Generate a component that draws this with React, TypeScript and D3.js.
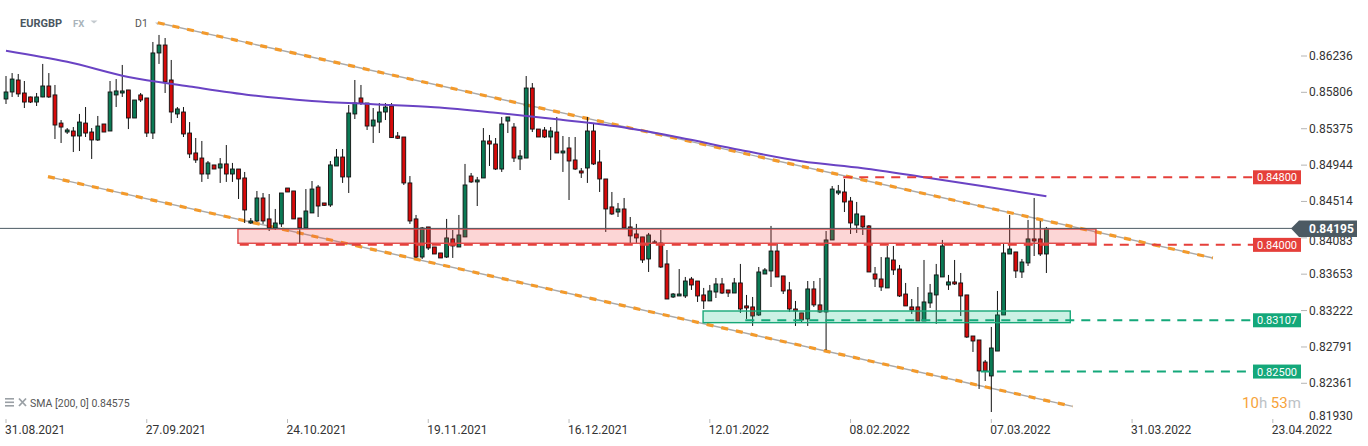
import React from 'react';
import * as d3 from 'd3';

const opens = [0.85727,0.85810,0.85952,0.85798,0.85751,0.85691,0.85751,0.85881,0.85775,0.85442,0.85336,0.85348,0.85289,0.85442,0.85336,0.85242,0.85431,0.85348,0.85775,0.85798,0.85834,0.85502,0.85775,0.85739,0.85324,0.86272,0.86366,0.85952,0.85550,0.85573,0.85324,0.85088,0.85028,0.84839,0.84946,0.84910,0.84958,0.84839,0.84898,0.84792,0.84259,0.84283,0.84555,0.84307,0.84200,0.84248,0.84673,0.84638,0.84318,0.84200,0.84378,0.84685,0.84496,0.84472,0.84934,0.85040,0.84804,0.85550,0.85739,0.85679,0.85407,0.85454,0.85573,0.85644,0.85289,0.85277,0.84733,0.84307,0.83856,0.84212,0.83975,0.83904,0.83856,0.84070,0.83975,0.84094,0.84815,0.84745,0.84792,0.85230,0.85194,0.84898,0.85466,0.85395,0.85017,0.85028,0.85857,0.85371,0.85360,0.85277,0.85336,0.85088,0.85147,0.85005,0.84875,0.84910,0.85348,0.84981,0.84780,0.84449,0.84389,0.84425,0.84212,0.84129,0.84094,0.83833,0.84035,0.84022,0.83774,0.83383,0.83395,0.83395,0.83596,0.83572,0.83407,0.83336,0.83442,0.83537,0.83466,0.83430,0.83549,0.83277,0.83265,0.83170,0.83655,0.83691,0.83927,0.83632,0.83466,0.83241,0.83194,0.83123,0.83478,0.83289,0.83206,0.84058,0.84614,0.84626,0.84519,0.84235,0.84342,0.84224,0.83655,0.83596,0.83490,0.83821,0.83714,0.83418,0.83265,0.83265,0.83099,0.83312,0.83407,0.83620,0.83525,0.83561,0.83549,0.83407,0.82921,0.82874,0.82613,0.82448,0.82743,0.83170,0.83892,0.83916,0.83679,0.83786,0.84070,0.84070,0.83892];
const highs = [0.85999,0.86034,0.86023,0.85940,0.85755,0.85798,0.86142,0.86034,0.85893,0.85478,0.85383,0.85395,0.85550,0.85632,0.85383,0.85526,0.85431,0.85940,0.85963,0.86130,0.85834,0.85715,0.85798,0.85739,0.86402,0.86485,0.86449,0.86189,0.85632,0.85632,0.85454,0.85265,0.85230,0.84993,0.84946,0.85028,0.85182,0.84970,0.84898,0.84863,0.84318,0.84638,0.84614,0.84602,0.84425,0.84614,0.84673,0.84638,0.84318,0.84661,0.84756,0.84709,0.84496,0.84993,0.85135,0.85135,0.85656,0.85952,0.85893,0.85679,0.85620,0.85679,0.85679,0.85679,0.85336,0.85277,0.84815,0.84354,0.84212,0.84212,0.83975,0.83904,0.84307,0.84176,0.84354,0.84958,0.84851,0.84804,0.85383,0.85301,0.85265,0.85514,0.85514,0.85442,0.85123,0.85999,0.85916,0.85371,0.85395,0.85395,0.85514,0.85289,0.85277,0.85277,0.84910,0.85514,0.85442,0.85123,0.84780,0.84626,0.84496,0.84555,0.84330,0.84248,0.84094,0.84141,0.84058,0.84176,0.83939,0.83430,0.83714,0.83620,0.83620,0.83572,0.83490,0.83525,0.83608,0.83608,0.83466,0.83608,0.83774,0.83407,0.83383,0.83738,0.83726,0.84224,0.84011,0.83632,0.83561,0.83336,0.83194,0.83572,0.83572,0.83608,0.84164,0.84697,0.84709,0.84780,0.84567,0.84508,0.84342,0.84235,0.83738,0.83856,0.83987,0.83987,0.83762,0.83549,0.83359,0.83501,0.83821,0.83537,0.83774,0.84058,0.83644,0.83821,0.83667,0.83407,0.82921,0.82874,0.82637,0.83028,0.83454,0.84011,0.84354,0.83916,0.83833,0.84295,0.84555,0.84283,0.84212];
const lows = [0.85668,0.85751,0.85751,0.85620,0.85679,0.85644,0.85748,0.85739,0.85253,0.85206,0.85313,0.85099,0.85111,0.85277,0.85017,0.85230,0.85336,0.85348,0.85632,0.85751,0.85371,0.85502,0.85691,0.85277,0.85253,0.86142,0.85798,0.85442,0.85502,0.85277,0.85028,0.84970,0.84745,0.84780,0.84898,0.84733,0.84745,0.84745,0.84543,0.84259,0.84248,0.84271,0.84248,0.84164,0.84176,0.84212,0.84626,0.84307,0.84022,0.84200,0.84378,0.84330,0.84460,0.84449,0.84934,0.84733,0.84614,0.85490,0.85656,0.85360,0.85206,0.85324,0.85478,0.85265,0.85253,0.84709,0.84248,0.83845,0.83833,0.83939,0.83892,0.83845,0.83845,0.83845,0.83975,0.84094,0.84733,0.84460,0.84792,0.84934,0.84886,0.84863,0.85324,0.84981,0.84886,0.85028,0.85336,0.85277,0.85265,0.85005,0.85088,0.84863,0.84531,0.84886,0.84792,0.84733,0.84946,0.84626,0.84153,0.84354,0.84330,0.84200,0.84022,0.84022,0.83786,0.83679,0.84011,0.83726,0.83359,0.83371,0.83395,0.83371,0.83466,0.83324,0.83241,0.83336,0.83371,0.83418,0.83383,0.83430,0.83194,0.83123,0.83040,0.83158,0.83655,0.83501,0.83620,0.83418,0.83206,0.83040,0.83075,0.83040,0.83265,0.83194,0.82755,0.84058,0.84590,0.84389,0.84129,0.84141,0.84117,0.83679,0.83501,0.83454,0.83490,0.83644,0.83383,0.83277,0.83182,0.83099,0.83099,0.83253,0.83064,0.83620,0.83466,0.83525,0.83158,0.82898,0.82732,0.82294,0.82388,0.82021,0.82743,0.83170,0.83892,0.83608,0.83608,0.83750,0.83868,0.83868,0.83667];
const closes = [0.85810,0.85963,0.85787,0.85691,0.85691,0.85751,0.85881,0.85751,0.85419,0.85395,0.85360,0.85289,0.85454,0.85324,0.85242,0.85407,0.85336,0.85810,0.85822,0.85822,0.85502,0.85715,0.85715,0.85324,0.86272,0.86366,0.85929,0.85573,0.85609,0.85313,0.85076,0.85005,0.84839,0.84970,0.84898,0.84958,0.84839,0.84898,0.84780,0.84413,0.84283,0.84555,0.84283,0.84200,0.84259,0.84614,0.84626,0.84307,0.84200,0.84401,0.84661,0.84460,0.84468,0.84946,0.85040,0.84804,0.85561,0.85679,0.85679,0.85407,0.85478,0.85573,0.85632,0.85270,0.85262,0.84733,0.84283,0.83856,0.84200,0.83963,0.83892,0.83845,0.84082,0.83987,0.84117,0.84709,0.84745,0.84768,0.85230,0.85194,0.84898,0.85431,0.85514,0.85028,0.85052,0.85857,0.85371,0.85277,0.85277,0.85348,0.85088,0.85111,0.84993,0.84898,0.84851,0.85348,0.84958,0.84780,0.84425,0.84366,0.84425,0.84200,0.84106,0.84082,0.83821,0.84117,0.84022,0.83738,0.83359,0.83418,0.83418,0.83572,0.83525,0.83395,0.83336,0.83454,0.83537,0.83430,0.83430,0.83549,0.83241,0.83253,0.83158,0.83679,0.83703,0.83927,0.83620,0.83454,0.83241,0.83218,0.83111,0.83478,0.83289,0.83206,0.84058,0.84661,0.84638,0.84508,0.84259,0.84366,0.84212,0.83679,0.83596,0.83501,0.83845,0.83703,0.83395,0.83277,0.83229,0.83099,0.83324,0.83430,0.83644,0.83987,0.83561,0.83537,0.83395,0.82909,0.82862,0.82507,0.82507,0.82779,0.83170,0.83904,0.83951,0.83691,0.83797,0.84070,0.84046,0.83892,0.84195];

const smaIdx = [0, 10, 20, 30, 40, 50, 60, 70, 80, 90, 100, 110, 120, 130, 140, 150, 160, 170];
const smaVal = [0.86299, 0.86167, 0.85987, 0.85875, 0.85772, 0.85704, 0.85665, 0.85629, 0.85564, 0.85487, 0.85401, 0.85271, 0.85123, 0.84990, 0.84908, 0.84801, 0.84691, 0.84575];

const priceTicks = [0.86236, 0.85806, 0.85375, 0.84944, 0.84514, 0.84083, 0.83653, 0.83222, 0.82791, 0.82361, 0.81930];
const dateTickIdx = [0, 23, 46, 69, 92, 115, 138, 161, 184, 207];
const dateTickLabels = ['31.08.2021', '27.09.2021', '24.10.2021', '19.11.2021', '16.12.2021', '12.01.2022', '08.02.2022', '07.03.2022', '31.03.2022', '23.04.2022'];

const upperChannelIdx = [24.8, 197.2];
const upperChannelVal = [0.86630, 0.83845];
const lowerChannelIdx = [6.86, 174.3];
const lowerChannelVal = [0.84808, 0.82087];

const levelVals = [0.84800, 0.84000, 0.83107, 0.82500];
const levelStartIdx = [136.8, 38.2, 120.8, 159.3];
const levelKinds = ['res', 'res', 'sup', 'sup'];

const resZoneIdx = [37.9, 178.1];
const resZoneVal = [0.84019, 0.84188];
const supZoneIdx = [113.9, 173.9];
const supZoneVal = [0.83079, 0.83217];

const lastPrice = 0.84195;
const smaLabel = 'SMA [200, 0] 0.84575';

const RED = '#e53f3a';
const GREEN = '#14a87a';
const UP = '#0b7a55';
const DOWN = '#d60a0a';

export default function App() {
  const W = 1368, H = 446;
  const x = d3.scaleLinear().domain([0, 170]).range([6, 1046.4]);
  const y = d3.scaleLinear().domain([0.81930, 0.86236]).range([419.7, 56]);
  const font = 'Roboto, "Noto Sans", sans-serif';
  const bw = 3.8;

  const smaLine = d3.line<number>()
    .x((_, i) => x(smaIdx[i]))
    .y((d) => y(d))
    .curve(d3.curveMonotoneX)(smaVal) || '';

  const labelX = 1253;
  const lp = y(lastPrice);

  const chan = (idx: number[], val: number[], k: string) => (
    <g key={k}>
      <line x1={x(idx[0])} y1={y(val[0])} x2={x(idx[1])} y2={y(val[1])} stroke="#a9a9a9" strokeWidth={1.4} />
      <line x1={x(idx[0])} y1={y(val[0])} x2={x(idx[1])} y2={y(val[1])} stroke="#f39a2b" strokeWidth={3.2} strokeDasharray="7 8" />
    </g>
  );

  return (
    <div style={{ position: 'absolute', left: 0, top: 0 }}>
      <svg width={W} height={H} style={{ display: 'block', background: '#fff', fontFamily: font }}>
        <rect x={0} y={0} width={W} height={H} fill="#fff" />
        {/* header */}
        <text x={20} y={23} fontSize={11} fontWeight={700} fill="#4a5660" dominantBaseline="central">EURGBP</text>
        <text x={73} y={23} fontSize={9.5} fontWeight={700} fill="#a9b3ba" dominantBaseline="central">FX</text>
        <path d="M90.5,20.5 L97.5,20.5 L94,23.5 Z" fill="#c4cacf" />
        <text x={135} y={23} fontSize={10.5} fill="#555" dominantBaseline="central">D1</text>
        <path d="M155,22.5 L160,22.5 L157.5,25 Z" fill="#c4cacf" />

        {/* channels */}
        {chan(upperChannelIdx, upperChannelVal, 'u')}
        {chan(lowerChannelIdx, lowerChannelVal, 'l')}

        {/* candles */}
        {opens.map((o, i) => {
          const c = closes[i];
          const up = c >= o;
          const cx = x(i);
          const top = y(Math.max(o, c));
          const bot = y(Math.min(o, c));
          return (
            <g key={i}>
              <line x1={cx} x2={cx} y1={y(highs[i])} y2={y(lows[i])} stroke="#111" strokeWidth={1} />
              <rect x={cx - bw / 2} y={top} width={bw} height={Math.max(bot - top, 1.2)} fill={up ? UP : DOWN} stroke="#111" strokeWidth={0.9} />
            </g>
          );
        })}

        {/* SMA */}
        <path d={smaLine} fill="none" stroke="#6a43c4" strokeWidth={2} />

        {/* zones */}
        <rect x={x(resZoneIdx[0])} y={y(resZoneVal[1])} width={x(resZoneIdx[1]) - x(resZoneIdx[0])} height={y(resZoneVal[0]) - y(resZoneVal[1])} fill="rgba(240,70,70,0.22)" stroke="#e04848" strokeWidth={1.4} />
        <rect x={x(supZoneIdx[0])} y={y(supZoneVal[1])} width={x(supZoneIdx[1]) - x(supZoneIdx[0])} height={y(supZoneVal[0]) - y(supZoneVal[1])} fill="rgba(20,190,130,0.22)" stroke="#18a878" strokeWidth={1.4} />

        {/* levels */}
        {levelVals.map((v, i) => (
          <line key={'lv' + i} x1={x(levelStartIdx[i])} x2={labelX} y1={y(v)} y2={y(v)} stroke={levelKinds[i] === 'res' ? RED : GREEN} strokeWidth={2} strokeDasharray="9 7" />
        ))}

        {/* last price line */}
        <line x1={0} x2={1292} y1={lp} y2={lp} stroke="#4c5a63" strokeWidth={1} />

        {/* price axis */}
        {priceTicks.map((t, i) => {
          const ty = Math.min(y(t), 416);
          const hidden = Math.abs(ty - lp) < 12;
          return (
            <g key={'pt' + i}>
              {i < priceTicks.length - 1 && <line x1={1301} x2={1307} y1={ty} y2={ty} stroke="#b5b5b5" strokeWidth={1} />}
              <text x={1309} y={hidden ? ty + 3 : ty} fontSize={12} fill="#333" dominantBaseline="central">{t.toFixed(5)}</text>
            </g>
          );
        })}

        {/* level labels */}
        {levelVals.map((v, i) => (
          <g key={'ll' + i}>
            <rect x={labelX} y={y(v) - 7} width={48} height={14} fill={levelKinds[i] === 'res' ? RED : GREEN} />
            <text x={labelX + 24} y={y(v) + 0.5} fontSize={11} fill="#fff" textAnchor="middle" dominantBaseline="central">{v.toFixed(5)}</text>
          </g>
        ))}

        {/* last price box */}
        <path d={`M1291,${lp} L1299,${lp - 8} L1357,${lp - 8} L1357,${lp + 8.5} L1299,${lp + 8.5} Z`} fill="#4c5a63" />
        <text x={1309} y={lp + 0.5} fontSize={12} fontWeight={700} fill="#fff" dominantBaseline="central">{lastPrice.toFixed(5)}</text>

        {/* time axis */}
        {dateTickIdx.map((d, i) => (
          <g key={'dt' + i}>
            <line x1={x(d)} x2={x(d)} y1={419} y2={423} stroke="#bbb" strokeWidth={1} />
            <text x={x(d) - 1} y={430} fontSize={12} fill="#333" dominantBaseline="central">{dateTickLabels[i]}</text>
          </g>
        ))}

        {/* bottom-left legend */}
        <g>
          <rect x={5} y={398} width={9} height={1.6} fill="#9aa0a5" />
          <rect x={5} y={401.5} width={9} height={1.6} fill="#9aa0a5" />
          <rect x={5} y={405} width={9} height={1.6} fill="#9aa0a5" />
          <path d="M19,398.5 L26,406 M26,398.5 L19,406" stroke="#9aa0a5" strokeWidth={1.8} />
          <text x={30} y={403} fontSize={10.5} fill="#555" dominantBaseline="central">{smaLabel}</text>
        </g>

        {/* countdown */}
        <text x={1242} y={403} fontSize={15} dominantBaseline="central">
          <tspan fill="#f7a33a">10</tspan>
          <tspan fill="#bcc2c6">h </tspan>
          <tspan fill="#f7a33a">53</tspan>
          <tspan fill="#bcc2c6">m</tspan>
        </text>
      </svg>
    </div>
  );
}
